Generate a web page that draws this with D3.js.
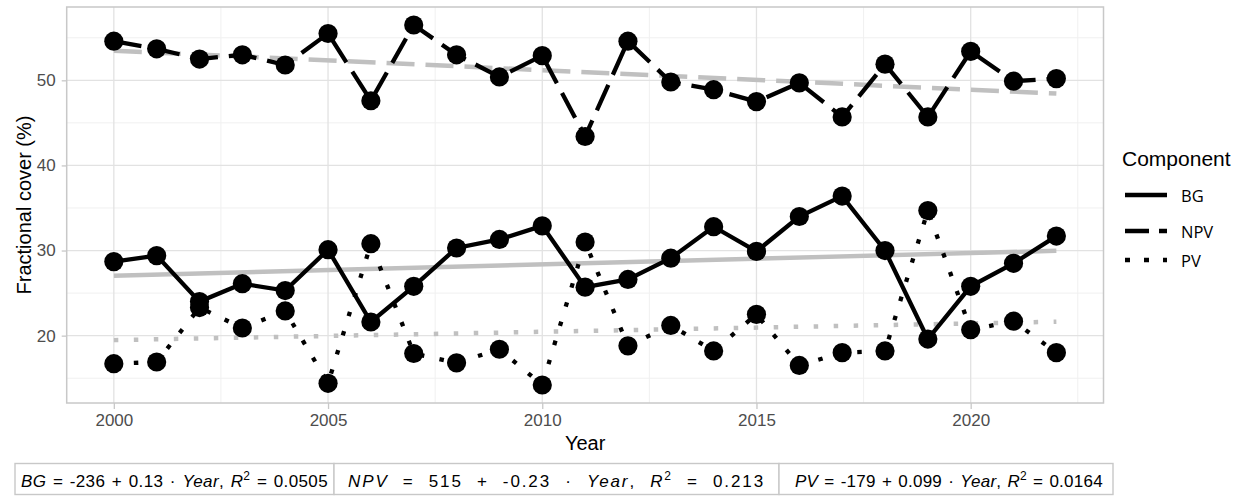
<!DOCTYPE html>
<html>
<head>
<meta charset="utf-8">
<script src="https://cdn.jsdelivr.net/npm/d3@7"></script>
<style>
  body { margin: 0; background: #fff; }
  svg { display: block; font-family: "Liberation Sans", Arial, sans-serif; }
</style>
</head>
<body>
<div id="chart"></div>
<script>
// values
var years = [2000,2001,2002,2003,2004,2005,2006,2007,2008,2009,2010,2011,2012,2013,2014,2015,2016,2017,2018,2019,2020,2021,2022];
var bgValues  = [28.7,29.4,24.0,26.1,25.3,30.1,21.6,25.8,30.3,31.3,32.9,25.7,26.6,29.1,32.8,29.9,34.0,36.4,30.0,19.6,25.8,28.5,31.7];
var npvValues = [54.6,53.7,52.5,53.0,51.8,55.5,47.6,56.5,53.0,50.4,52.9,43.4,54.6,49.8,48.9,47.5,49.7,45.7,51.9,45.7,53.4,49.9,50.2];
var pvValues  = [16.7,16.9,23.3,20.9,22.9,14.4,30.8,17.9,16.8,18.4,14.2,31.0,18.8,21.2,18.2,22.5,16.5,18.0,18.2,34.7,20.7,21.7,18.0];

var components = ["BG", "NPV", "PV"];
var xTicks = [2000, 2005, 2010, 2015, 2020];
var xMinor = [2002.5, 2007.5, 2012.5, 2017.5, 2022.5];
var yTicks = [20, 30, 40, 50];
var yMinor = [15, 25, 35, 45, 55];
var equations = [
  {name: "BG",  icpt: "-236", slope: "0.13",  r2: "0.0505"},
  {name: "NPV", icpt: "515",  slope: "-0.23", r2: "0.213"},
  {name: "PV",  icpt: "-179", slope: "0.099", r2: "0.0164"}
];

var dashes = {BG: null, NPV: "28,11", PV: "4.5,15.5"};
var seriesValues = {BG: bgValues, NPV: npvValues, PV: pvValues};

var W = 1245, H = 496;
var margin = {top: 7, right: 141.5, bottom: 93, left: 66.7};
var width = W - margin.left - margin.right,
    height = H - margin.top - margin.bottom;

var svg = d3.select("#chart").append("svg").attr("width", W).attr("height", H);
var g = svg.append("g").attr("transform", "translate(" + margin.left + "," + margin.top + ")");

// ggplot style 5% expansion
var allVals = bgValues.concat(npvValues, pvValues);
var yExt = d3.extent(allVals), xExt = d3.extent(years);
var yPad = (yExt[1] - yExt[0]) * 0.05, xPad = (xExt[1] - xExt[0]) * 0.05;
var x = d3.scaleLinear().domain([xExt[0] - xPad, xExt[1] + xPad]).range([0, width]);
var y = d3.scaleLinear().domain([yExt[0] - yPad, yExt[1] + yPad]).range([height, 0]);

// grid
g.selectAll(".xminor").data(xMinor).enter().append("line")
  .attr("x1", function(d){return x(d);}).attr("x2", function(d){return x(d);})
  .attr("y1", 0).attr("y2", height).attr("stroke", "#f0f0f0").attr("stroke-width", 1);
g.selectAll(".yminor").data(yMinor).enter().append("line")
  .attr("y1", function(d){return y(d);}).attr("y2", function(d){return y(d);})
  .attr("x1", 0).attr("x2", width).attr("stroke", "#f0f0f0").attr("stroke-width", 1);
g.selectAll(".xmajor").data(xTicks).enter().append("line")
  .attr("x1", function(d){return x(d);}).attr("x2", function(d){return x(d);})
  .attr("y1", 0).attr("y2", height).attr("stroke", "#e2e2e2").attr("stroke-width", 1.3);
g.selectAll(".ymajor").data(yTicks).enter().append("line")
  .attr("y1", function(d){return y(d);}).attr("y2", function(d){return y(d);})
  .attr("x1", 0).attr("x2", width).attr("stroke", "#e2e2e2").attr("stroke-width", 1.3);

// axes
var xAxis = g.append("g").attr("transform", "translate(0," + height + ")")
  .call(d3.axisBottom(x).tickValues(xTicks).tickFormat(d3.format("d")).tickSize(6).tickPadding(5));
var yAxis = g.append("g")
  .call(d3.axisLeft(y).tickValues(yTicks).tickSize(5).tickPadding(6));
[xAxis, yAxis].forEach(function(a){
  a.select(".domain").remove();
  a.selectAll("line").attr("stroke", "#c8c8c8").attr("stroke-width", 1.3);
  a.selectAll("text").attr("fill", "#4d4d4d").style("font-size", "17px")
   .style("font-family", "'Liberation Sans', Arial, sans-serif");
});

// panel border
g.append("rect").attr("x", 0).attr("y", 0).attr("width", width).attr("height", height)
  .attr("fill", "none").attr("stroke", "#c8c8c8").attr("stroke-width", 1.5);

// trend lines (least squares)
function fit(vals){
  var mx = d3.mean(years), my = d3.mean(vals);
  var sxy = d3.sum(years, function(d, i){return (d - mx) * (vals[i] - my);});
  var sxx = d3.sum(years, function(d){return (d - mx) * (d - mx);});
  var b = sxy / sxx;
  return [{yr: xExt[0], v: my + b * (xExt[0] - mx)}, {yr: xExt[1], v: my + b * (xExt[1] - mx)}];
}
var line = d3.line().x(function(d){return x(d.yr);}).y(function(d){return y(d.v);});

components.forEach(function(c){
  g.append("path").datum(fit(seriesValues[c])).attr("d", line)
    .attr("fill", "none").attr("stroke", "#c0c0c0").attr("stroke-width", 4.5)
    .attr("stroke-dasharray", dashes[c]);
});

components.forEach(function(c){
  var pts = years.map(function(yr, i){return {yr: yr, v: seriesValues[c][i]};});
  g.append("path").datum(pts).attr("d", line)
    .attr("fill", "none").attr("stroke", "#000").attr("stroke-width", 4.3)
    .attr("stroke-dasharray", dashes[c]);
});

components.forEach(function(c){
  g.selectAll(".pt" + c).data(seriesValues[c]).enter().append("circle")
    .attr("cx", function(d, i){return x(years[i]);})
    .attr("cy", function(d){return y(d);})
    .attr("r", 9.6).attr("fill", "#000");
});

// axis titles
svg.append("text").attr("x", margin.left + width / 2).attr("y", 450)
  .attr("text-anchor", "middle").style("font-size", "20px").attr("fill", "#000").text("Year");
svg.append("text").attr("transform", "translate(31," + (margin.top + height / 2) + ") rotate(-90)")
  .attr("text-anchor", "middle").style("font-size", "20px").attr("fill", "#000").text("Fractional cover (%)");

// legend
var leg = svg.append("g");
leg.append("text").attr("x", 1122).attr("y", 166).style("font-size", "21px").text("Component");
var legY = [195, 231, 260];
components.forEach(function(c, i){
  leg.append("line").attr("x1", 1125).attr("x2", 1167).attr("y1", legY[i]).attr("y2", legY[i])
    .attr("stroke", "#000").attr("stroke-width", 4.3).attr("stroke-dasharray", dashes[c] ? (c == "NPV" ? "24,10" : "5,14") : null);
  leg.append("text").attr("x", 1181).attr("y", legY[i] + 6.5)
    .style("font-family", "'Open Sans', 'Noto Sans', sans-serif").style("font-size", "16.5px").text(c);
});

// equation boxes; extra room shared between word and letter spacing
var cells = [{x0: 15, x1: 334, tx: 21, tw: 307}, {x0: 334, x1: 779, tx: 348, tw: 417}, {x0: 779, x1: 1113, tx: 795, tw: 308}];
var eqG = svg.append("g");
equations.forEach(function(e, i){
  var cl = cells[i];
  eqG.append("rect").attr("x", cl.x0).attr("y", 463.5).attr("width", cl.x1 - cl.x0).attr("height", 31)
    .attr("fill", "#fff").attr("stroke", "#c8c8c8").attr("stroke-width", 1.4);
  var t = eqG.append("text").attr("x", cl.tx).attr("y", 487).style("font-size", "17px")
    .attr("xml:space", "preserve");
  t.append("tspan").style("font-style", "italic").text(e.name);
  t.append("tspan").text(" = " + e.icpt + " + " + e.slope + " \u00B7 ");
  t.append("tspan").style("font-style", "italic").text("Year");
  t.append("tspan").text(", ");
  t.append("tspan").style("font-style", "italic").text("R");
  t.append("tspan").attr("dy", -7).style("font-size", "12px").text("2");
  t.append("tspan").attr("dy", 7).text(" = " + e.r2);
  var nat = t.node().getComputedTextLength();
  var nChars = t.text().length;
  var extra = Math.max(0, cl.tw - nat);
  t.style("word-spacing", (extra * 0.5 / 9) + "px")
   .style("letter-spacing", (extra * 0.5 / nChars) + "px");
});
</script>
</body>
</html>
